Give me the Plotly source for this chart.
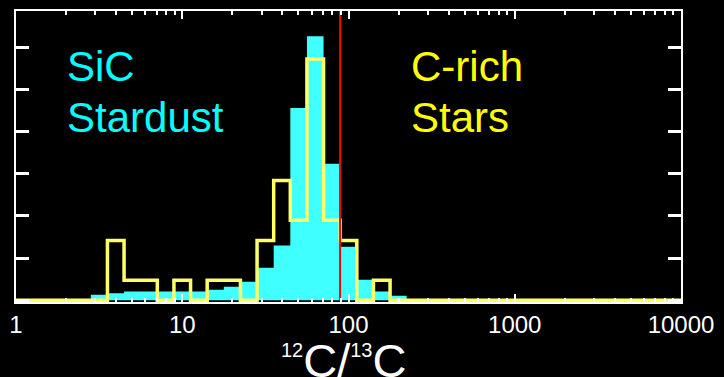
import numpy as np
import plotly.graph_objects as go

# log10 of the lower edge of each histogram bin (bin width 0.1 dex)
bin_lo_log = [0.45, 0.55, 0.65, 0.75, 0.85, 0.95, 1.05, 1.15, 1.25, 1.35,
              1.45, 1.55, 1.65, 1.75, 1.85, 1.95, 2.05, 2.15, 2.25]
bin_width_log = 0.1

# SiC stardust (filled cyan histogram), fraction per bin
sic_frac = [0.0065, 0.0085, 0.0105, 0.0105, 0.0105, 0.0105, 0.0105, 0.0125, 0.016, 0.022,
            0.0385, 0.065, 0.228, 0.313, 0.162, 0.0635, 0.0245, 0.0105, 0.0055]

# C-rich stars (yellow outline histogram), fraction per bin
star_frac = [0.0, 0.071, 0.0237, 0.0237, 0.0, 0.0237, 0.0, 0.0237, 0.0237, 0.0,
             0.071, 0.142, 0.095, 0.286, 0.095, 0.071, 0.0, 0.0237, 0.0]

solar_ratio = 89
x_tick_vals = [1, 10, 100, 1000, 10000]
x_tick_text = ["1", "10", "100", "1000", "10000"]
y_max = 0.343

edges = [10 ** v for v in bin_lo_log] + [10 ** (bin_lo_log[-1] + bin_width_log)]

fig = go.Figure()

fig.add_trace(go.Scatter(
    x=edges, y=sic_frac + [0.0],
    mode="lines", line=dict(shape="hv", width=0, color="#40ffff"),
    fill="tozeroy", fillcolor="#40ffff", hoverinfo="skip", showlegend=False))

fig.add_trace(go.Scatter(
    x=[x_tick_vals[0]] + edges + [x_tick_vals[-1]],
    y=[0.0] + star_frac + [0.0, 0.0],
    mode="lines", line=dict(shape="hv", width=3.5, color="#ffff66"),
    hoverinfo="skip", showlegend=False))

fig.add_trace(go.Scatter(
    x=[solar_ratio, solar_ratio], y=[0, y_max],
    mode="lines", line=dict(width=2, color="#ff0000"),
    hoverinfo="skip", showlegend=False))

font_family = "Liberation Sans, Arial, sans-serif"

annotations = [
    dict(text="SiC", x=0.297, y=0.277, color="#00ffff"),
    dict(text="Stardust", x=0.297, y=0.217, color="#00ffff"),
    dict(text="C-rich", x=2.362, y=0.277, color="#ffff00"),
    dict(text="Stars", x=2.362, y=0.217, color="#ffff00"),
]
for a in annotations:
    fig.add_annotation(text=a["text"], x=a["x"], y=a["y"], xref="x", yref="y",
                       xanchor="left", yanchor="middle", showarrow=False,
                       font=dict(family=font_family, size=42, color=a["color"]))

fig.add_annotation(
    text="<sup><span style='font-size:20px'>12</span></sup>C/<sup><span style='font-size:20px'>13</span></sup>C",
    x=0.492, y=-0.20, xref="paper", yref="paper", xanchor="center", yanchor="middle",
    showarrow=False, font=dict(family=font_family, size=47, color="white"))

fig.update_layout(
    width=724, height=377,
    margin=dict(l=12, r=43, t=9, b=75),
    paper_bgcolor="black", plot_bgcolor="black",
    showlegend=False,
    xaxis=dict(
        type="log", range=[0, 4], tickmode="array",
        tickvals=x_tick_vals, ticktext=x_tick_text,
        showgrid=False, zeroline=False,
        showline=True, linecolor="white", linewidth=2, mirror="allticks",
        ticks="inside", ticklen=8, tickwidth=2, tickcolor="white",
        tickfont=dict(family=font_family, size=24, color="white"),
        minor=dict(dtick="D1", ticks="inside", ticklen=4, tickwidth=2,
                   tickcolor="white", showgrid=False),
    ),
    yaxis=dict(
        range=[-0.002, y_max], dtick=0.05, tick0=0,
        showgrid=False, zeroline=False, showticklabels=False,
        showline=True, linecolor="white", linewidth=2, mirror="allticks",
        ticks="inside", ticklen=13, tickwidth=2.5, tickcolor="white",
    ),
)

fig.write_html("out.html")
